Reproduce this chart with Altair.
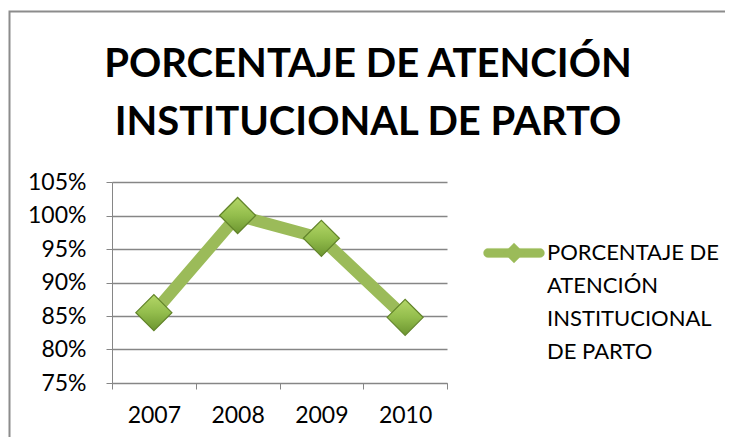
import altair as alt
import pandas as pd

years = ["2007", "2008", "2009", "2010"]
values = [0.855, 1.00, 0.966, 0.848]
series = "PORCENTAJE DE ATENCIÓN INSTITUCIONAL DE PARTO"
title_lines = ["PORCENTAJE DE ATENCIÓN", "INSTITUCIONAL DE PARTO"]
legend_lines = ["PORCENTAJE DE", "ATENCIÓN", "INSTITUCIONAL", "DE PARTO"]
y_ticks = [0.75, 0.80, 0.85, 0.90, 0.95, 1.00, 1.05]

df = pd.DataFrame({"year": years, "value": values, "serie": [series] * len(years)})

FONT = "Lato"
GREEN = "#9bbb59"
DGREEN = "#6f8f33"

x_enc = alt.X("year:N", title=None, bandPosition=0.5,
              scale=alt.Scale(type="band", paddingInner=0, paddingOuter=0),
              axis=alt.Axis(labelAngle=0, tickBand="extent", labelFontSize=23,
                            labelFont=FONT, labelColor="#000", labelPadding=15,
                            domainColor="#868686", tickColor="#868686", tickSize=6,
                            grid=False))
y_enc = alt.Y("value:Q", title=None,
              scale=alt.Scale(domain=[0.75, 1.05], nice=False, zero=False),
              axis=alt.Axis(values=y_ticks, format=".0%", labelFontSize=23,
                            labelFont=FONT, labelColor="#000", labelPadding=20,
                            domainColor="#868686", tickColor="#868686", tickSize=6,
                            gridColor="#868686", gridWidth=1.3))

legend_expr = "[" + ", ".join("'" + s + "'" for s in legend_lines) + "]"
dy = -0.23
symbol_path = (f"M-0.85,{-0.15+dy:.2f}L0.85,{-0.15+dy:.2f}A0.15,0.15,0,0,1,0.85,{0.15+dy:.2f}"
               f"L-0.85,{0.15+dy:.2f}A0.15,0.15,0,0,1,-0.85,{-0.15+dy:.2f}Z "
               f"M0,{-0.33+dy:.2f}L0.33,{dy:.2f}L0,{0.33+dy:.2f}L-0.33,{dy:.2f}Z")
color_enc = alt.Color("serie:N", scale=alt.Scale(range=[GREEN]),
                      legend=alt.Legend(title=None, orient="none", legendX=371, legendY=47,
                                        labelExpr=legend_expr, labelFont=FONT,
                                        labelFontSize=22, labelLimit=400,
                                        labelBaseline="alphabetic", labelOffset=2,
                                        symbolType=symbol_path,
                                        symbolSize=3721, symbolFillColor=GREEN,
                                        symbolStrokeColor=DGREEN, symbolStrokeWidth=0.3))

border = alt.Chart(pd.DataFrame({"a": [0]})).mark_rect(
    fill=None, stroke="#8c8c8c", strokeWidth=2
).encode(x=alt.value(-102.5), x2=alt.value(700), y=alt.value(-170.5), y2=alt.value(300))

title = alt.Chart(pd.DataFrame({"a": [0]})).mark_text(
    text=title_lines, font=FONT, fontSize=40, fontWeight="bold", color="#000",
    lineHeight=58, baseline="alphabetic", align="center"
).encode(x=alt.value(256), y=alt.value(-105))

line = alt.Chart(df).mark_line(strokeWidth=12, strokeJoin="miter").encode(
    x=x_enc, y=y_enc, color=color_enc)

diamond_fill = alt.LinearGradient(
    gradient="linear", x1=0.5, y1=0, x2=0.5, y2=1,
    stops=[alt.GradientStop(color="#b4d768", offset=0),
           alt.GradientStop(color="#93bd4c", offset=0.5),
           alt.GradientStop(color="#6c9530", offset=1)])

points = alt.Chart(df).mark_point(shape="diamond", filled=True, size=1300,
                                  fill=diamond_fill, stroke="#62842a", strokeWidth=1.2,
                                  opacity=1).encode(x=x_enc, y=y_enc)

chart = alt.layer(border, title, line, points).properties(
    width=335, height=201,
    autosize=alt.AutoSizeParams(type="none"),
    padding={"left": 104, "top": 174, "right": 278, "bottom": 54},
).configure(style={"guide-label": {"lineHeight": 33}}).configure_view(stroke=None)

chart.save("out.html", embed_options={"renderer": "svg", "actions": False})
